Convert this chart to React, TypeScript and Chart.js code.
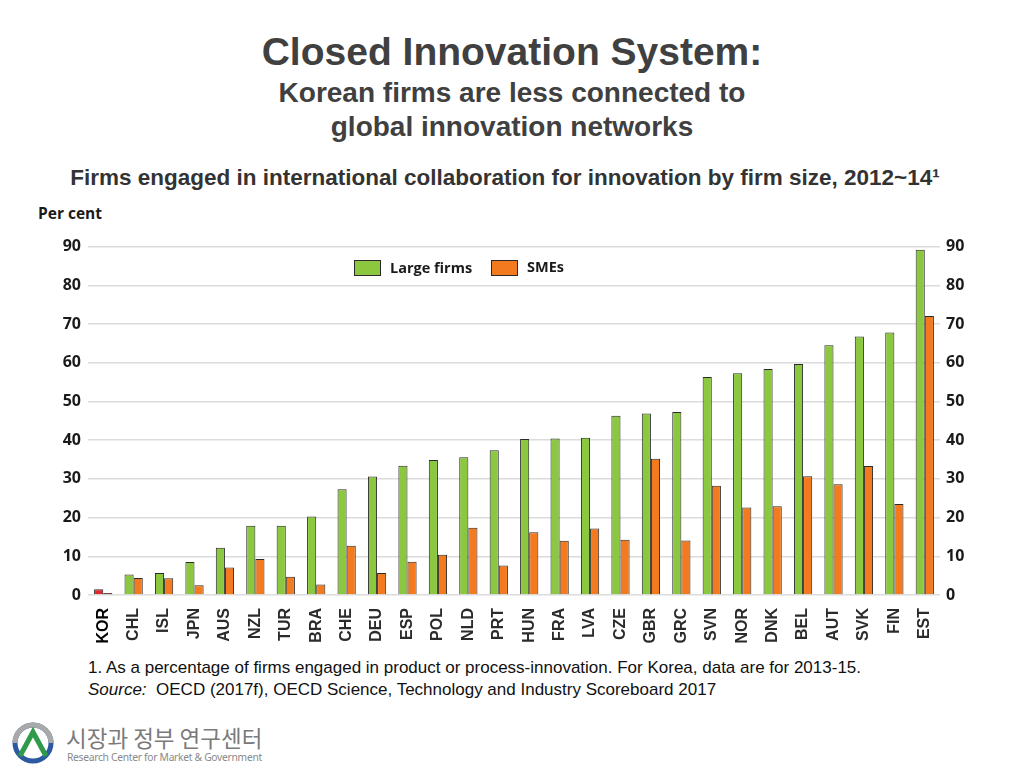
import React, { useEffect, useRef } from "react";
import { Chart, registerables } from "chart.js";

Chart.register(...registerables);

const categories = [
  "KOR", "CHL", "ISL", "JPN", "AUS", "NZL", "TUR", "BRA", "CHE", "DEU", "ESP", "POL", "NLD", "PRT",
  "HUN", "FRA", "LVA", "CZE", "GBR", "GRC", "SVN", "NOR", "DNK", "BEL", "AUT", "SVK", "FIN", "EST",
];
const largeFirms = [
  1.5, 5.3, 5.7, 8.5, 12.2, 17.9, 17.9, 20.3, 27.3, 30.6, 33.4, 34.9, 35.6, 37.4,
  40.3, 40.4, 40.6, 46.3, 46.9, 47.3, 56.3, 57.3, 58.4, 59.7, 64.5, 66.8, 67.8, 89.2,
];
const smes = [
  0.5, 4.4, 4.3, 2.5, 7.1, 9.3, 4.7, 2.7, 12.7, 5.7, 8.6, 10.4, 17.4, 7.6,
  16.2, 14.0, 17.2, 14.3, 35.2, 14.1, 28.2, 22.6, 22.9, 30.7, 28.6, 33.3, 23.5, 72.1,
];
const yTicks = [0, 10, 20, 30, 40, 50, 60, 70, 80, 90];

const GREEN = "#8cc83f";
const ORANGE = "#f47a1f";
const KOR_LARGE = "#e0282e";
const KOR_SME = "#8a1c1c";

export default function App() {
  const canvasRef = useRef<HTMLCanvasElement | null>(null);

  useEffect(() => {
    document.body.style.margin = "0";
    const canvas = canvasRef.current;
    if (!canvas) return;
    const chart = new Chart(canvas, {
      type: "bar",
      data: {
        labels: categories,
        datasets: [
          {
            label: "Large firms",
            data: largeFirms,
            backgroundColor: categories.map((c) => (c === "KOR" ? KOR_LARGE : GREEN)),
            borderColor: "#2a2a2a",
            borderWidth: 1,
            borderSkipped: "bottom",
            yAxisID: "y",
          },
          {
            label: "SMEs",
            data: smes,
            backgroundColor: categories.map((c) => (c === "KOR" ? KOR_SME : ORANGE)),
            borderColor: "#2a2a2a",
            borderWidth: 1,
            borderSkipped: "bottom",
            yAxisID: "y",
          },
        ],
      },
      options: {
        animation: false,
        responsive: true,
        maintainAspectRatio: false,
        layout: { padding: { top: 14, left: 0, right: 0, bottom: 0 } },
        datasets: {
          bar: { categoryPercentage: 0.6, barPercentage: 1 },
        },
        plugins: {
          legend: { display: false },
          tooltip: { enabled: false },
          title: { display: false },
        },
        scales: {
          x: {
            grid: { display: false },
            border: { display: false },
            ticks: {
              autoSkip: false,
              minRotation: 90,
              maxRotation: 90,
              padding: 5,
              color: (ctx: any) => (ctx.index === 0 ? "#000000" : "#2b2b2b"),
              font: {
                family: "'Liberation Sans', Arial, sans-serif",
                weight: "bold",
                size: 16,
              },
            },
            afterFit: (scale: any) => {
              scale.height = 50;
            },
          },
          y: {
            position: "left",
            min: 0,
            max: 90,
            afterBuildTicks: (scale: any) => {
              scale.ticks = yTicks.map((v) => ({ value: v }));
            },
            grid: { color: "#dcdcdc", lineWidth: 1.5, drawTicks: false },
            border: { display: false },
            ticks: {
              padding: 7,
              color: "#1a1a1a",
              font: { family: "'Open Sans', sans-serif", weight: "bold", size: 16 },
            },
            afterFit: (scale: any) => {
              scale.width = 88;
            },
          },
          y1: {
            position: "right",
            min: 0,
            max: 90,
            afterBuildTicks: (scale: any) => {
              scale.ticks = yTicks.map((v) => ({ value: v }));
            },
            grid: { display: false, drawTicks: false },
            border: { display: false },
            ticks: {
              padding: 6,
              color: "#1a1a1a",
              font: { family: "'Open Sans', sans-serif", weight: "bold", size: 16 },
            },
            afterFit: (scale: any) => {
              scale.width = 84;
            },
          },
        },
      },
    });
    return () => chart.destroy();
  }, []);

  const abs = (s: React.CSSProperties): React.CSSProperties => ({ position: "absolute", ...s });

  return (
    <div style={{ position: "relative", width: 1024, height: 768, background: "#ffffff", overflow: "hidden" }}>
      <div
        style={abs({
          left: 0,
          top: 28,
          width: 1024,
          textAlign: "center",
          fontFamily: "'Liberation Sans', Arial, sans-serif",
          fontWeight: "bold",
          fontSize: 39,
          lineHeight: "48px",
          color: "#404040",
        })}
      >
        Closed Innovation System:
      </div>
      <div
        style={abs({
          left: 0,
          top: 76,
          width: 1024,
          textAlign: "center",
          fontFamily: "'Liberation Sans', Arial, sans-serif",
          fontWeight: "bold",
          fontSize: 28,
          lineHeight: "34px",
          color: "#404040",
        })}
      >
        Korean firms are less connected to
        <br />
        global innovation networks
      </div>
      <div
        style={abs({
          left: 0,
          top: 165,
          width: 1010,
          textAlign: "center",
          fontFamily: "'Liberation Sans', Arial, sans-serif",
          fontWeight: "bold",
          fontSize: 22.5,
          lineHeight: "26px",
          color: "#333333",
          whiteSpace: "nowrap",
        })}
      >
        Firms engaged in international collaboration for innovation by firm size, 2012~14¹
      </div>
      <div
        style={abs({
          left: 38,
          top: 203,
          fontFamily: "'Open Sans', sans-serif",
          fontWeight: "bold",
          fontSize: 15.5,
          lineHeight: "20px",
          color: "#1a1a1a",
        })}
      >
        Per cent
      </div>

      <div style={abs({ left: 0, top: 230, width: 1024, height: 415 })}>
        <canvas ref={canvasRef} />
      </div>

      {/* legend */}
      <div style={abs({ left: 354, top: 260, width: 27, height: 16, background: GREEN, border: "1px solid #2a2a2a", boxSizing: "border-box" })} />
      <div
        style={abs({
          left: 390,
          top: 258,
          fontFamily: "'Open Sans', sans-serif",
          fontWeight: "bold",
          fontSize: 14.5,
          lineHeight: "20px",
          color: "#1a1a1a",
        })}
      >
        Large firms
      </div>
      <div style={abs({ left: 491, top: 260, width: 27, height: 16, background: ORANGE, border: "1px solid #2a2a2a", boxSizing: "border-box" })} />
      <div
        style={abs({
          left: 527,
          top: 257,
          fontFamily: "'Open Sans', sans-serif",
          fontWeight: "bold",
          fontSize: 14.5,
          lineHeight: "20px",
          color: "#1a1a1a",
        })}
      >
        SMEs
      </div>

      <div
        style={abs({
          left: 88,
          top: 657,
          fontFamily: "'Liberation Sans', Arial, sans-serif",
          fontSize: 17,
          lineHeight: "22px",
          color: "#111111",
          whiteSpace: "nowrap",
        })}
      >
        1. As a percentage of firms engaged in product or process-innovation. For Korea, data are for 2013-15.
        <br />
        <i>Source:</i>&nbsp; OECD (2017f), OECD Science, Technology and Industry Scoreboard 2017
      </div>

      {/* logo */}
      <svg style={abs({ left: 10, top: 720 })} width={46} height={46} viewBox="0 0 46 46">
        <circle cx={23} cy={23} r={18} fill="none" stroke="#2c5aa0" strokeWidth={5} />
        <path d="M 5 23 A 18 18 0 0 1 41 23" fill="none" stroke="#a9a9a9" strokeWidth={5} />
        <polyline points="10,36 23,12 36,36" fill="none" stroke="#2f9a4a" strokeWidth={5} strokeLinejoin="miter" />
      </svg>
      <div
        style={abs({
          left: 66,
          top: 722,
          fontFamily: "'Noto Sans CJK KR', sans-serif",
          fontSize: 22.5,
          lineHeight: "30px",
          color: "#7a7a7a",
          whiteSpace: "nowrap",
        })}
      >
        시장과 정부 연구센터
      </div>
      <div
        style={abs({
          left: 67,
          top: 750,
          fontFamily: "'Noto Sans', sans-serif",
          fontSize: 10.3,
          lineHeight: "14px",
          letterSpacing: -0.3,
          color: "#8a8a8a",
          whiteSpace: "nowrap",
        })}
      >
        Research Center for Market &amp; Government
      </div>
    </div>
  );
}
